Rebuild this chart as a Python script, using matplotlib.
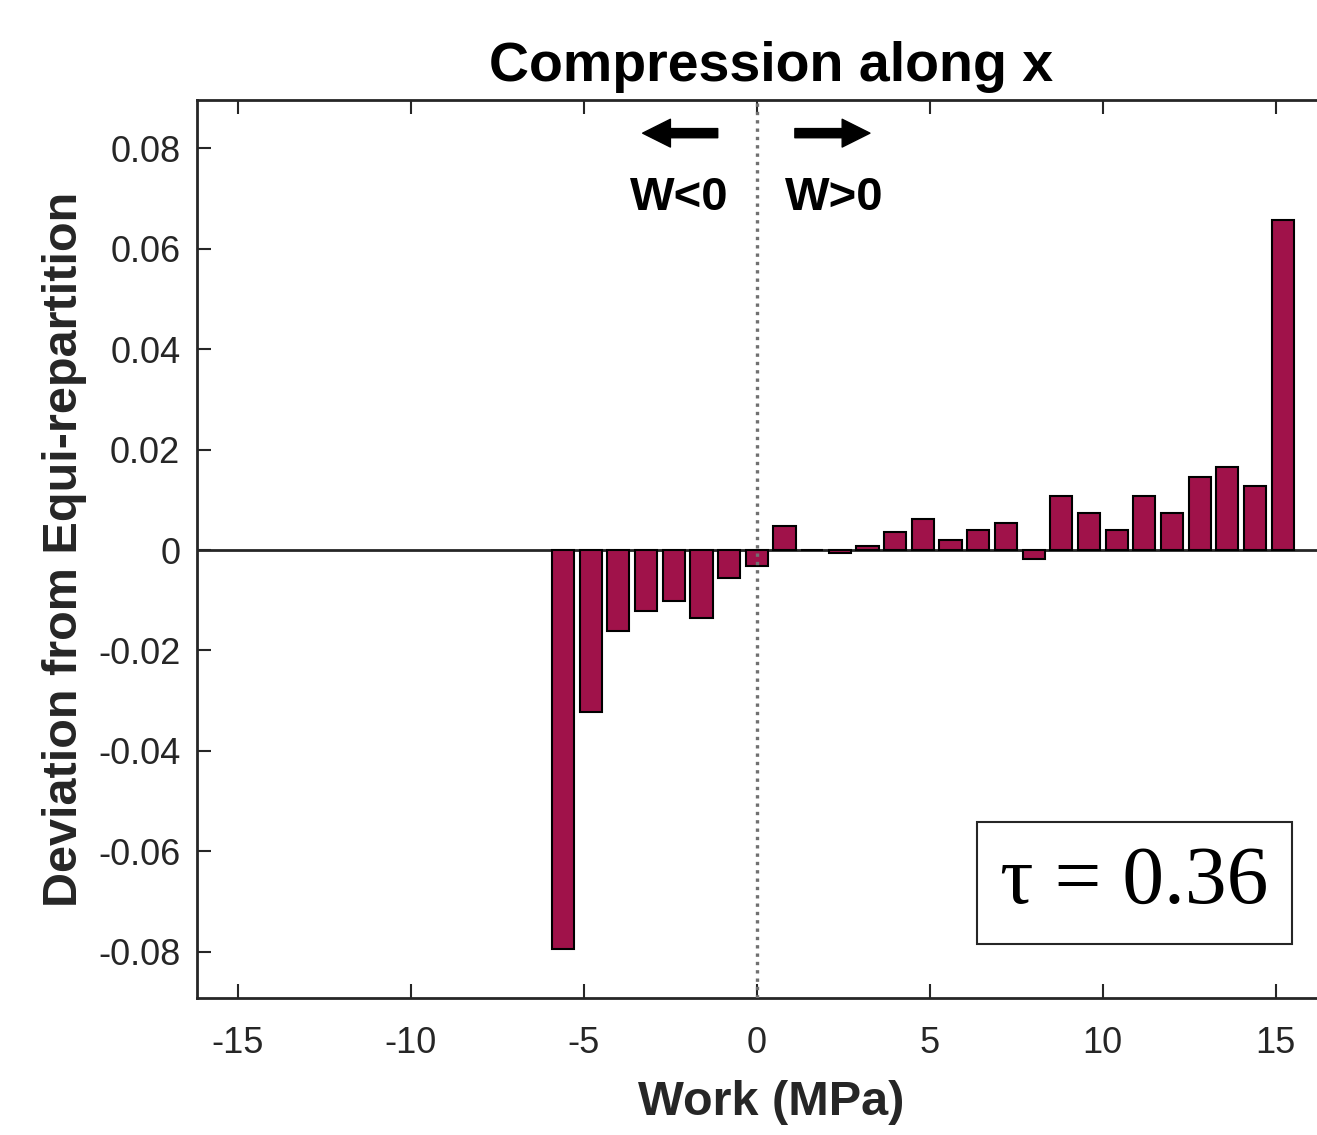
import matplotlib
matplotlib.use("Agg")
import matplotlib.pyplot as plt
import numpy as np

plt.rcParams['font.family'] = ['Liberation Sans', 'DejaVu Sans']
plt.rcParams['axes.unicode_minus'] = False

# bin centres (MPa) and deviation values
work = np.arange(-7, 20) * 0.8
deviation = [-0.0795, -0.0322, -0.0161, -0.0121, -0.0101, -0.0136, -0.0056,
             -0.0031, 0.0048, 0.0, -0.0006, 0.0007, 0.0036, 0.0061, 0.0019,
             0.0040, 0.0053, -0.0017, 0.0107, 0.0074, 0.0040, 0.0107, 0.0074,
             0.0145, 0.0166, 0.0128, 0.0657]
xticks = [-15, -10, -5, 0, 5, 10, 15]
yticks = [-0.08, -0.06, -0.04, -0.02, 0, 0.02, 0.04, 0.06, 0.08]
ytick_labels = ['-0.08', '-0.06', '-0.04', '-0.02', '0', '0.02', '0.04', '0.06', '0.08']

grey = '#262626'

fig = plt.figure(figsize=(13.17, 11.35), dpi=100)
# the original axes run past the right edge of the picture
ax = fig.add_axes([197 / 1317, 1 - 998 / 1135, (1345 - 197) / 1317, (998 - 100) / 1135])

ax.bar(work, deviation, width=0.64, color='#A0124A', edgecolor='black', linewidth=1.5, zorder=3)
ax.axhline(0, color=grey, linewidth=2, zorder=2)
ax.axvline(0, color='#707070', linewidth=2.4, linestyle=(0, (1, 1.5)), zorder=4)

ax.set_xlim(-16.18, 17.0)
ax.set_ylim(-0.0892, 0.0896)
ax.set_xticks(xticks)
ax.set_yticks(yticks)
ax.set_yticklabels(ytick_labels)
ax.tick_params(direction='in', length=10, width=1.5, colors=grey, labelsize=26,
               top=True, right=False)
ax.tick_params(axis='x', pad=20)
ax.tick_params(axis='y', pad=12)
for side in ['left', 'top', 'bottom']:
    ax.spines[side].set_color(grey)
    ax.spines[side].set_linewidth(2)
ax.spines['right'].set_visible(False)

ax.set_title('Compression along x', fontsize=40, fontweight='bold', pad=14)
ax.set_xlabel('Work (MPa)', fontsize=35, fontweight='bold', color=grey, labelpad=14)
ax.set_ylabel('Deviation from Equi-repartition', fontsize=35, fontweight='bold',
              color=grey, labelpad=8)

# direction arrows
arrow_style = 'simple,head_length=1.0,head_width=1.0,tail_width=0.33'
ax.annotate('', xy=(-3.3, 0.083), xytext=(-1.13, 0.083),
            arrowprops=dict(arrowstyle=arrow_style, color='black', mutation_scale=20,
                            shrinkA=0, shrinkB=0))
ax.annotate('', xy=(3.27, 0.083), xytext=(1.1, 0.083),
            arrowprops=dict(arrowstyle=arrow_style, color='black', mutation_scale=20,
                            shrinkA=0, shrinkB=0))
ax.text(-2.25, 0.0700, 'W<0', fontsize=34, fontweight='bold', ha='center', va='center')
ax.text(2.23, 0.0700, 'W>0', fontsize=34, fontweight='bold', ha='center', va='center')

ax.text(10.92, -0.0663, '\u03c4 = 0.36', fontsize=60,
        family=['Liberation Serif', 'DejaVu Serif'], ha='center', va='center',
        bbox=dict(boxstyle='square,pad=0.28', facecolor='white', edgecolor=grey,
                  linewidth=1.5), zorder=5)

fig.savefig('out.png', dpi=100)
